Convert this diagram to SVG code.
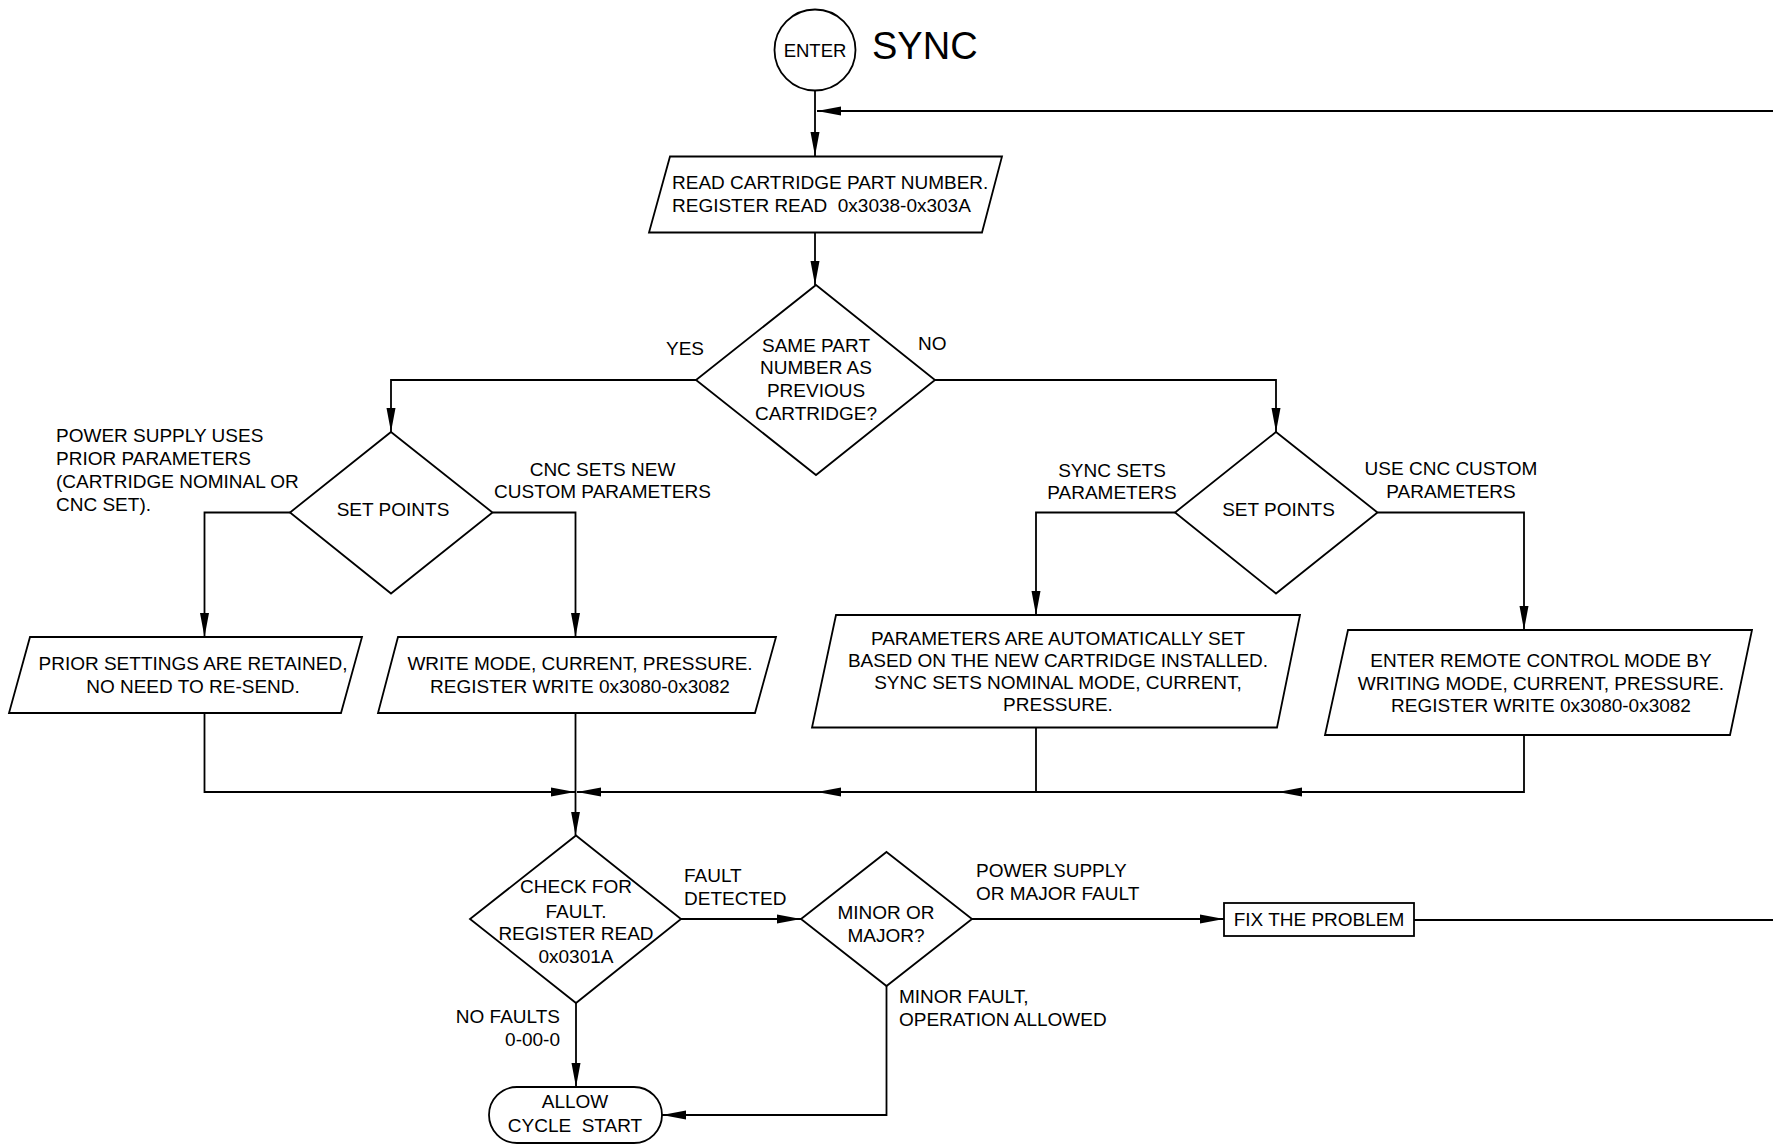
<svg xmlns="http://www.w3.org/2000/svg" width="1773" height="1144" viewBox="0 0 1773 1144">
<style>
.s{fill:#fff;stroke:#000;stroke-width:1.8}
.c{fill:none;stroke:#000;stroke-width:1.8}
text{font-family:"Liberation Sans",Arial,sans-serif;font-size:19px;fill:#000;white-space:pre}
.m{text-anchor:middle}
.e{text-anchor:end}
</style>
<defs>
<marker id="ah" markerUnits="userSpaceOnUse" markerWidth="24" markerHeight="10" refX="24" refY="5" orient="auto">
<path d="M0,0.5 L24,5 L0,9.5 z" fill="#000"/>
</marker>
</defs>
<rect width="1773" height="1144" fill="#fff"/>
<g id="connectors" class="c" marker-end="url(#ah)">
<path d="M815,91 V156"/>
<path d="M1773,111 H817"/>
<path d="M815,232.5 V285"/>
<path d="M696,380 H391 V432"/>
<path d="M935,380 H1276 V432"/>
<path d="M290,512.5 H204.5 V637"/>
<path d="M492.5,512.5 H575.5 V637"/>
<path d="M1175,512.5 H1036 V615"/>
<path d="M1377.5,512.5 H1524 V630"/>
<path d="M204.5,713 V792 H575"/>
<path d="M575.5,713 V835.5"/>
<path d="M1036,727.5 V792 H817"/>
<path d="M817,792 H577"/>
<path d="M1524,735 V792 H1278"/>
<path d="M1278,792 H1036" marker-end="none"/>
<path d="M681,919 H801"/>
<path d="M972,919 H1224"/>
<path d="M1414,920 H1773" marker-end="none"/>
<path d="M576,1003 V1087"/>
<path d="M886.5,986 V1115 H662"/>
</g>
<g id="enter">
<circle class="s" cx="815" cy="50" r="40.5"/>
<text class="m" x="815" y="57" style="font-size:18.5px">ENTER</text>
</g>
<g id="title">
<text x="872" y="59" style="font-size:38px">SYNC</text>
</g>
<g id="read-part">
<polygon class="s" points="670,156.5 1002,156.5 982,232.5 649,232.5"/>
<text x="672" y="189">READ CARTRIDGE PART NUMBER.</text>
<text x="672" y="212">REGISTER READ  0x3038-0x303A</text>
</g>
<g id="same-part">
<polygon class="s" points="816,285 935,380 816,475 696,380"/>
<text class="m" x="816" y="351.5">SAME PART</text>
<text class="m" x="816" y="374">NUMBER AS</text>
<text class="m" x="816" y="396.5">PREVIOUS</text>
<text class="m" x="816" y="419.5">CARTRIDGE?</text>
<text x="666" y="355">YES</text>
<text x="918" y="350">NO</text>
</g>
<g id="setpoints-left">
<polygon class="s" points="391,432 492.5,512.5 391,593.5 290,512.5"/>
<text class="m" x="393" y="516">SET POINTS</text>
<text x="56" y="442">POWER SUPPLY USES</text>
<text x="56" y="465">PRIOR PARAMETERS</text>
<text x="56" y="488">(CARTRIDGE NOMINAL OR</text>
<text x="56" y="511">CNC SET).</text>
<text class="m" x="602.5" y="476">CNC SETS NEW</text>
<text class="m" x="602.5" y="498">CUSTOM PARAMETERS</text>
</g>
<g id="setpoints-right">
<polygon class="s" points="1276,432 1377.5,512.5 1276,593.5 1175,512.5"/>
<text class="m" x="1278.5" y="516">SET POINTS</text>
<text class="m" x="1112" y="476.5">SYNC SETS</text>
<text class="m" x="1112" y="498.5">PARAMETERS</text>
<text class="m" x="1451" y="475">USE CNC CUSTOM</text>
<text class="m" x="1451" y="497.5">PARAMETERS</text>
</g>
<g id="prior-settings">
<polygon class="s" points="30,637 362,637 341,713 9,713"/>
<text class="m" x="193" y="670">PRIOR SETTINGS ARE RETAINED,</text>
<text class="m" x="193" y="692.5">NO NEED TO RE-SEND.</text>
</g>
<g id="write-mode">
<polygon class="s" points="398,637 776,637 755,713 378,713"/>
<text class="m" x="580" y="670">WRITE MODE, CURRENT, PRESSURE.</text>
<text class="m" x="580" y="692.5">REGISTER WRITE 0x3080-0x3082</text>
</g>
<g id="auto-set">
<polygon class="s" points="836,615 1300,615 1277,727.5 812,727.5"/>
<text class="m" x="1058" y="645">PARAMETERS ARE AUTOMATICALLY SET</text>
<text class="m" x="1058" y="667">BASED ON THE NEW CARTRIDGE INSTALLED.</text>
<text class="m" x="1058" y="688.5">SYNC SETS NOMINAL MODE, CURRENT,</text>
<text class="m" x="1058" y="711">PRESSURE.</text>
</g>
<g id="remote-control">
<polygon class="s" points="1348,630 1752,630 1730,735 1325,735"/>
<text class="m" x="1541" y="667">ENTER REMOTE CONTROL MODE BY</text>
<text class="m" x="1541" y="689.5">WRITING MODE, CURRENT, PRESSURE.</text>
<text class="m" x="1541" y="712">REGISTER WRITE 0x3080-0x3082</text>
</g>
<g id="check-fault">
<polygon class="s" points="576,835.5 681,919 576,1003 470,919"/>
<text class="m" x="576" y="893">CHECK FOR</text>
<text class="m" x="576" y="917.5">FAULT.</text>
<text class="m" x="576" y="940">REGISTER READ</text>
<text class="m" x="576" y="963">0x0301A</text>
<text x="684" y="882">FAULT</text>
<text x="684" y="905">DETECTED</text>
<text class="e" x="560" y="1022.5">NO FAULTS</text>
<text class="e" x="560" y="1046">0-00-0</text>
</g>
<g id="minor-major">
<polygon class="s" points="886.5,852 972,919 886.5,986 801,919"/>
<text class="m" x="886" y="919">MINOR OR</text>
<text class="m" x="886" y="942">MAJOR?</text>
<text x="976" y="877">POWER SUPPLY</text>
<text x="976" y="900">OR MAJOR FAULT</text>
<text x="899" y="1003">MINOR FAULT,</text>
<text x="899" y="1026">OPERATION ALLOWED</text>
</g>
<g id="fix-problem">
<rect class="s" x="1224" y="903" width="190" height="33"/>
<text class="m" x="1319" y="926">FIX THE PROBLEM</text>
</g>
<g id="allow-cycle-start">
<rect class="s" x="489" y="1087" width="173" height="56" rx="28" ry="28"/>
<text class="m" x="575" y="1108">ALLOW</text>
<text class="m" x="575" y="1132">CYCLE  START</text>
</g>
</svg>
